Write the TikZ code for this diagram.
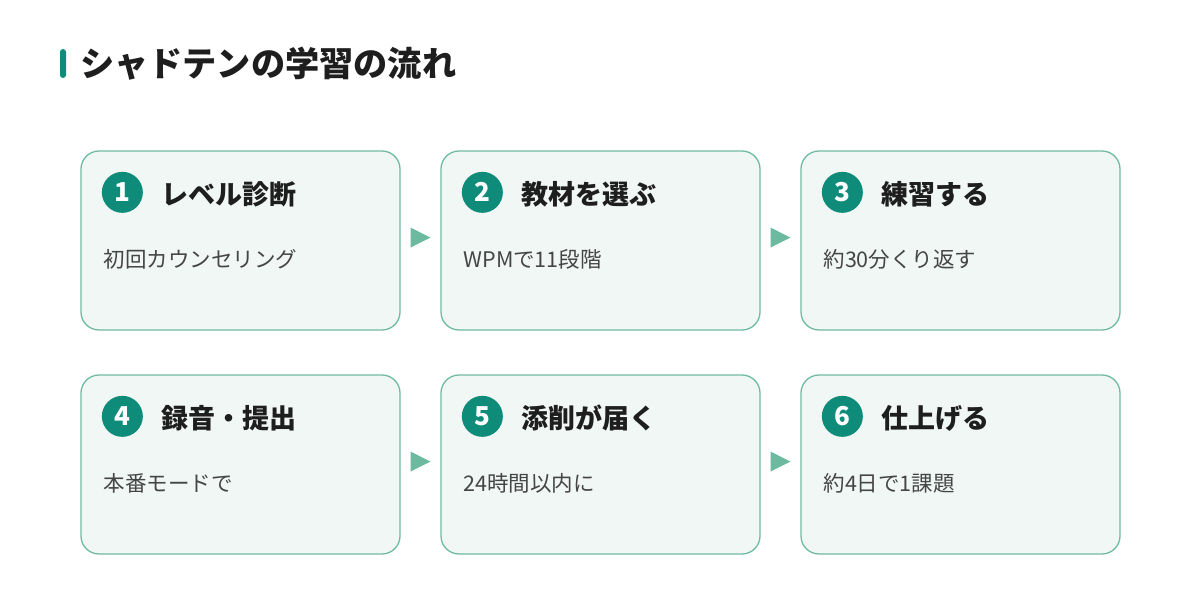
\documentclass[tikz,border=0pt]{standalone}
\usepackage{fontspec}
\setmainfont{Noto Sans CJK JP}
\usetikzlibrary{calc}
\definecolor{bordergreen}{HTML}{6FBBA3}
\definecolor{boxfill}{HTML}{F0F7F4}
\definecolor{teal1}{HTML}{0E8C79}
\definecolor{arrowgreen}{HTML}{6CBBA1}
\definecolor{textdark}{HTML}{1E1E1E}
\definecolor{textgrey}{HTML}{454545}
\tikzset{
  stepbox/.style={draw=bordergreen, line width=1.3pt, fill=boxfill, rounded corners=18pt,
    minimum width=319pt, minimum height=179pt, inner sep=0pt},
  numcirc/.style={circle, fill=teal1, minimum size=41pt, inner sep=0pt, text=white,
    font=\bfseries\fontsize{26}{26}\selectfont},
  headtext/.style={anchor=west, inner sep=0pt, text=textdark, font=\bfseries\fontsize{27}{27}\selectfont},
  subtext/.style={anchor=west, inner sep=0pt, text=textgrey, font=\fontsize{21.5}{21.5}\selectfont},
  arrowfill/.style={fill=arrowgreen},
}
\begin{document}
\begin{tikzpicture}[x=1pt,y=-1pt]
\useasboundingbox[fill=white] (0,0) rectangle (1200,600);
% title
\node[fill=teal1, rounded corners=3pt, minimum width=6pt, minimum height=29pt, inner sep=0pt] (bar) at (63,63.5) {};
\node[anchor=west, inner sep=0pt, text=textdark, font=\bfseries\fontsize{34.2}{34.2}\selectfont] (title) at (80,64) {シャドテンの学習の流れ};
% boxes
\node[stepbox] (b1) at (240.5,240.5) {};
\node[stepbox] (b2) at (600.5,240.5) {};
\node[stepbox] (b3) at (960.5,240.5) {};
\node[stepbox] (b4) at (240.5,464.5) {};
\node[stepbox] (b5) at (600.5,464.5) {};
\node[stepbox] (b6) at (960.5,464.5) {};
% contents
\foreach \b/\n/\h/\s in {b1/1/レベル診断/初回カウンセリング,
                         b2/2/教材を選ぶ/WPMで11段階,
                         b3/3/練習する/約30分くり返す,
                         b4/4/録音・提出/本番モードで,
                         b5/5/添削が届く/24時間以内に,
                         b6/6/仕上げる/約4日で1課題}{
  \node[numcirc] (c\b) at ($(\b.north west)+(42,42)$) {\n};
  \node[headtext] (h\b) at ($(c\b.center)+(39,2)$) {\h};
  \node[subtext] (s\b) at ($(\b.north west)+(23,109)$) {\s};
}
% arrows
\foreach \a/\b in {b1/b2,b2/b3,b4/b5,b5/b6}{
  \coordinate (m\a) at ($(\a.east)!0.5!(\b.west)+(0,-3)$);
  \fill[arrowfill] ($(m\a)+(-10,-10)$) -- ($(m\a)+(10,0)$) -- ($(m\a)+(-10,10)$) -- cycle;
}
\end{tikzpicture}
\end{document}
